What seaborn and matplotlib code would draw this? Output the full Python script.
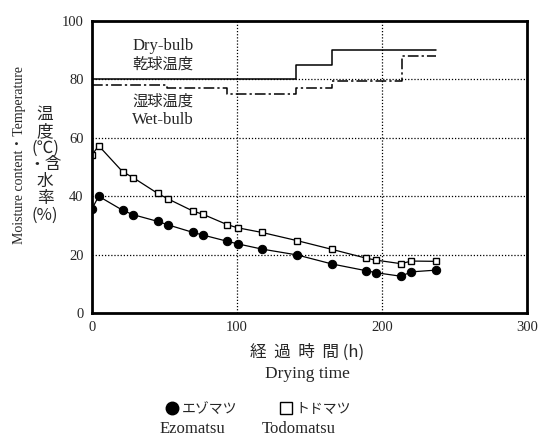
import matplotlib
matplotlib.use("Agg")
import matplotlib.pyplot as plt
import seaborn as sns
import numpy as np
from matplotlib.lines import Line2D

# ---- data ----
dry_x = [0, 141, 165.5, 237.5]
dry_y = [80, 85, 90, 90]
wet_x = [0, 52, 93, 141, 165.5, 214, 237.5]
wet_y = [78, 77, 75, 77, 79.5, 88, 88]

time_h = [0, 4.6, 21.1, 28.3, 45.2, 52.4, 69.7, 76.6, 93.1, 100.4, 117.2,
          141.4, 165.5, 189, 196, 213.1, 220.2, 237.5]
todomatsu = [54.2, 57.3, 48.4, 46.4, 41.0, 39.1, 34.9, 33.8, 30.3, 29.2, 27.6,
             24.8, 21.8, 18.8, 18.1, 16.9, 17.8, 17.7]
ezomatsu = [35.7, 40.0, 35.2, 33.7, 31.4, 30.2, 27.6, 26.7, 24.6, 23.7, 21.9,
            19.9, 16.8, 14.5, 13.8, 12.6, 14.1, 14.7]

x_ticks = [0, 100, 200, 300]
y_ticks = [0, 20, 40, 60, 80, 100]

sns.set_style("white")
plt.rcParams['font.family'] = ['Liberation Serif', 'Noto Sans CJK JP', 'DejaVu Sans']
JP = ['Noto Sans CJK JP', 'DejaVu Sans']

fig = plt.figure(figsize=(5.49, 4.41), dpi=100)
ax = fig.add_axes([0.1676, 0.2902, 0.7923, 0.662])

sns.lineplot(x=dry_x, y=dry_y, ax=ax, estimator=None, sort=False,
             drawstyle='steps-post', color='black', linewidth=1.1)
sns.lineplot(x=wet_x, y=wet_y, ax=ax, estimator=None, sort=False,
             drawstyle='steps-post', color='black', linewidth=1.1,
             linestyle=(0, (7, 2, 1.5, 2)))
sns.lineplot(x=time_h, y=todomatsu, ax=ax, estimator=None, sort=False,
             color='black', linewidth=0.9, marker='s', markersize=5,
             markerfacecolor='white', markeredgecolor='black', markeredgewidth=1)
sns.lineplot(x=time_h, y=ezomatsu, ax=ax, estimator=None, sort=False,
             color='black', linewidth=0.9, marker='o', markersize=6,
             markerfacecolor='black', markeredgecolor='black')

ax.set_xlim(0, 300)
ax.set_ylim(0, 100)
ax.set_xticks(x_ticks)
ax.set_yticks(y_ticks)
ax.set_xticklabels([str(v) for v in x_ticks], fontsize=10.5)
ax.set_yticklabels([str(v) for v in y_ticks], fontsize=10.5)
ax.tick_params(length=0, pad=6)
for v in [100, 200]:
    ax.axvline(v, color='black', linestyle=(0, (1, 1.5)), linewidth=0.9, zorder=0)
for v in [20, 40, 60, 80]:
    ax.axhline(v, color='black', linestyle=(0, (1, 1.5)), linewidth=0.9, zorder=0)
for s in ax.spines.values():
    s.set_visible(True)
    s.set_color('black')
    s.set_linewidth(2)

ax.text(49, 91.5, 'Dry-bulb', fontsize=12, ha='center', va='center')
ax.text(49, 85.3, '乾球温度', fontsize=11, ha='center', va='center', family=JP)
ax.text(49, 72.5, '湿球温度', fontsize=11, ha='center', va='center', family=JP)
ax.text(49, 66, 'Wet-bulb', fontsize=12, ha='center', va='center')

ax.set_xlabel('')
ax.set_ylabel('')
fig.text(307/549, 1 - 352/441, '経  過  時  間 (h)', fontsize=12, ha='center', va='center',
         family=JP)
fig.text(307/549, 1 - 374/441, 'Drying time', fontsize=12.5, ha='center', va='center')

fig.text(20/549, 1 - 155/441, 'Moisture content・Temperature', fontsize=10,
         rotation=90, ha='center', va='center',
         family=['Liberation Serif', 'Noto Sans CJK JP'])
fig.text(45/549, 1 - 165/441, '温\n度\n(℃)\n・含\n水\n率\n(%)', fontsize=12,
         ha='center', va='center', linespacing=0.98, family=JP)

handles = [Line2D([], [], marker='o', color='black', linestyle='none', markersize=9),
           Line2D([], [], marker='s', color='black', markerfacecolor='white',
                  linestyle='none', markersize=9)]
fig.legend(handles, ['エゾマツ', 'トドマツ'], loc='center', ncol=2,
           bbox_to_anchor=(258/549, 1 - 409/441), frameon=False,
           prop={'family': JP, 'size': 10}, handletextpad=0.2, columnspacing=3.0,
           handlelength=1)
fig.text(160/549, 1 - 429/441, 'Ezomatsu', fontsize=12, ha='left', va='center')
fig.text(262/549, 1 - 429/441, 'Todomatsu', fontsize=12, ha='left', va='center')

fig.savefig('out.png', dpi=100)
